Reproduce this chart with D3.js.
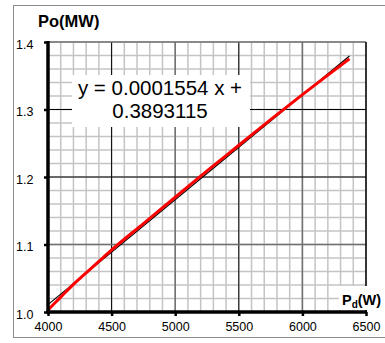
<!DOCTYPE html>
<html>
<head>
<meta charset="utf-8">
<style>
    html, body { margin: 0; padding: 0; background: #fff; }
    svg { display: block; font-family: "Liberation Sans", Arial, sans-serif; }
    .minor line { stroke: #c4c4c4; stroke-width: 1.5; }
    .tick-label { font-size: 12.5px; fill: #000; }
    .axis-title { font-size: 16.5px; font-weight: bold; fill: #000; }
</style>
</head>
<body>
<svg width="385" height="343"></svg>
<script src="https://d3js.org/d3.v7.min.js"></script>
<script>
    // measured series: input power Pd (W) vs output power Po (MW)
    var pd = [4000, 4100, 4200, 4300, 4400, 4500, 4750, 5000, 5250, 5500, 5750, 6000, 6200, 6370];
    var po = [1.003, 1.022, 1.041, 1.058, 1.075, 1.092, 1.131, 1.170, 1.209, 1.247, 1.285, 1.322, 1.351, 1.375];

    // linear trendline shown in the label
    var trendSlope = 0.0001554,
        trendIntercept = 0.3893115;

    var xTicks = [4000, 4500, 5000, 5500, 6000, 6500];
    var yTicks = [1.0, 1.1, 1.2, 1.3, 1.4];
    var eqLines = ["y = 0.0001554 x +", "0.3893115"];

    var svg = d3.select("svg"),
        pLeft = 48, pTop = 42, pRight = 366, pBottom = 312;

    var x = d3.scaleLinear().domain([4000, 6500]).range([pLeft, pRight]);
    var y = d3.scaleLinear().domain([1.0, 1.4]).range([pBottom, pTop]);

    // outer frame
    svg.append("rect")
        .attr("x", 13.5).attr("y", 5.5)
        .attr("width", 380).attr("height", 332)
        .attr("fill", "#fff")
        .attr("stroke", "#8c8c8c");

    // minor grid
    var minor = svg.append("g").attr("class", "minor");
    minor.selectAll(".vx")
        .data(x.ticks(25))
        .enter().append("line")
        .attr("x1", function(d) { return x(d); })
        .attr("x2", function(d) { return x(d); })
        .attr("y1", pTop).attr("y2", pBottom);
    minor.selectAll(".hy")
        .data(y.ticks(20))
        .enter().append("line")
        .attr("y1", function(d) { return y(d); })
        .attr("y2", function(d) { return y(d); })
        .attr("x1", pLeft).attr("x2", pRight);

    // major grid (alternating black / dark grey like the original)
    var major = svg.append("g").attr("class", "major");
    major.selectAll(".vx")
        .data(xTicks.slice(1, -1))
        .enter().append("line")
        .attr("x1", function(d) { return x(d); })
        .attr("x2", function(d) { return x(d); })
        .attr("y1", pTop).attr("y2", pBottom)
        .attr("stroke", function(d, i) { return i % 2 == 0 ? "#000" : "#707070"; })
        .attr("stroke-width", function(d, i) { return i % 2 == 0 ? 1 : 1.5; });
    major.selectAll(".hy")
        .data(yTicks.slice(1, -1))
        .enter().append("line")
        .attr("y1", function(d) { return y(d); })
        .attr("y2", function(d) { return y(d); })
        .attr("x1", pLeft).attr("x2", pRight)
        .attr("stroke", function(d, i) { return i == 0 ? "#707070" : "#000"; })
        .attr("stroke-width", function(d, i) { return i == 0 ? 1.5 : 1; });

    // top and right plot border
    svg.append("line").attr("x1", pLeft).attr("x2", pRight).attr("y1", pTop).attr("y2", pTop)
        .attr("stroke", "#707070").attr("stroke-width", 1.5);
    svg.append("line").attr("x1", pRight).attr("x2", pRight).attr("y1", pTop).attr("y2", pBottom)
        .attr("stroke", "#000").attr("stroke-width", 1.5);

    // equation box
    svg.append("rect")
        .attr("x", 72).attr("y", 75)
        .attr("width", 178).attr("height", 52)
        .attr("fill", "#fff");
    svg.append("g").selectAll("text")
        .data(eqLines)
        .enter().append("text")
        .attr("x", 160)
        .attr("y", function(d, i) { return 95 + i * 22.5; })
        .attr("text-anchor", "middle")
        .style("font-size", "20.5px")
        .text(function(d) { return d; });

    // trendline
    var trendX = [pd[0], pd[pd.length - 1]];
    svg.append("path")
        .datum(trendX)
        .attr("fill", "none")
        .attr("stroke", "#000")
        .attr("stroke-width", 1.2)
        .attr("d", d3.line()
            .x(function(d) { return x(d); })
            .y(function(d) { return y(trendSlope * d + trendIntercept); }));

    // data series
    svg.append("path")
        .datum(d3.zip(pd, po))
        .attr("fill", "none")
        .attr("stroke", "#ff0000")
        .attr("stroke-width", 3)
        .attr("d", d3.line()
            .curve(d3.curveMonotoneX)
            .x(function(d) { return x(d[0]); })
            .y(function(d) { return y(d[1]); }));

    // axes
    var ax = svg.append("g").attr("transform", "translate(0," + pBottom + ")")
        .call(d3.axisBottom(x).tickValues(xTicks).tickSize(4).tickFormat(d3.format("d")));
    ax.select(".domain").attr("stroke-width", 3.5).attr("d", "M" + (pLeft - 1.5) + ",0H" + (pRight + 1));
    ax.selectAll(".tick line").attr("stroke-width", 2.5);
    ax.selectAll("text").attr("class", "tick-label").attr("y", 10).attr("dy", "0.71em")
        .style("font-family", "'Liberation Sans', Arial, sans-serif");

    var ay = svg.append("g").attr("transform", "translate(" + pLeft + ",0)")
        .call(d3.axisLeft(y).tickValues(yTicks).tickSize(4).tickFormat(d3.format(".1f")));
    ay.select(".domain").attr("stroke-width", 3.5).attr("d", "M0," + (pTop - 1) + "V" + (pBottom + 1.5));
    ay.selectAll(".tick line").attr("stroke-width", 2.5);
    ay.selectAll("text").attr("class", "tick-label").attr("text-anchor", "start")
        .attr("x", -32).attr("dy", "0.5em")
        .style("font-family", "'Liberation Sans', Arial, sans-serif");

    // axis titles
    svg.append("text").attr("class", "axis-title")
        .attr("x", 38).attr("y", 27)
        .text("Po(MW)");

    svg.append("rect")
        .attr("x", 339).attr("y", 286)
        .attr("width", 46).attr("height", 24)
        .attr("fill", "#fff");
    var pdTitle = svg.append("text").attr("class", "axis-title")
        .style("font-size", "14.5px")
        .attr("x", 342).attr("y", 305);
    pdTitle.append("tspan").text("P");
    pdTitle.append("tspan").attr("dy", 3).style("font-size", "10px").text("d");
    pdTitle.append("tspan").attr("dy", -3).text("(W)");
</script>
</body>
</html>
